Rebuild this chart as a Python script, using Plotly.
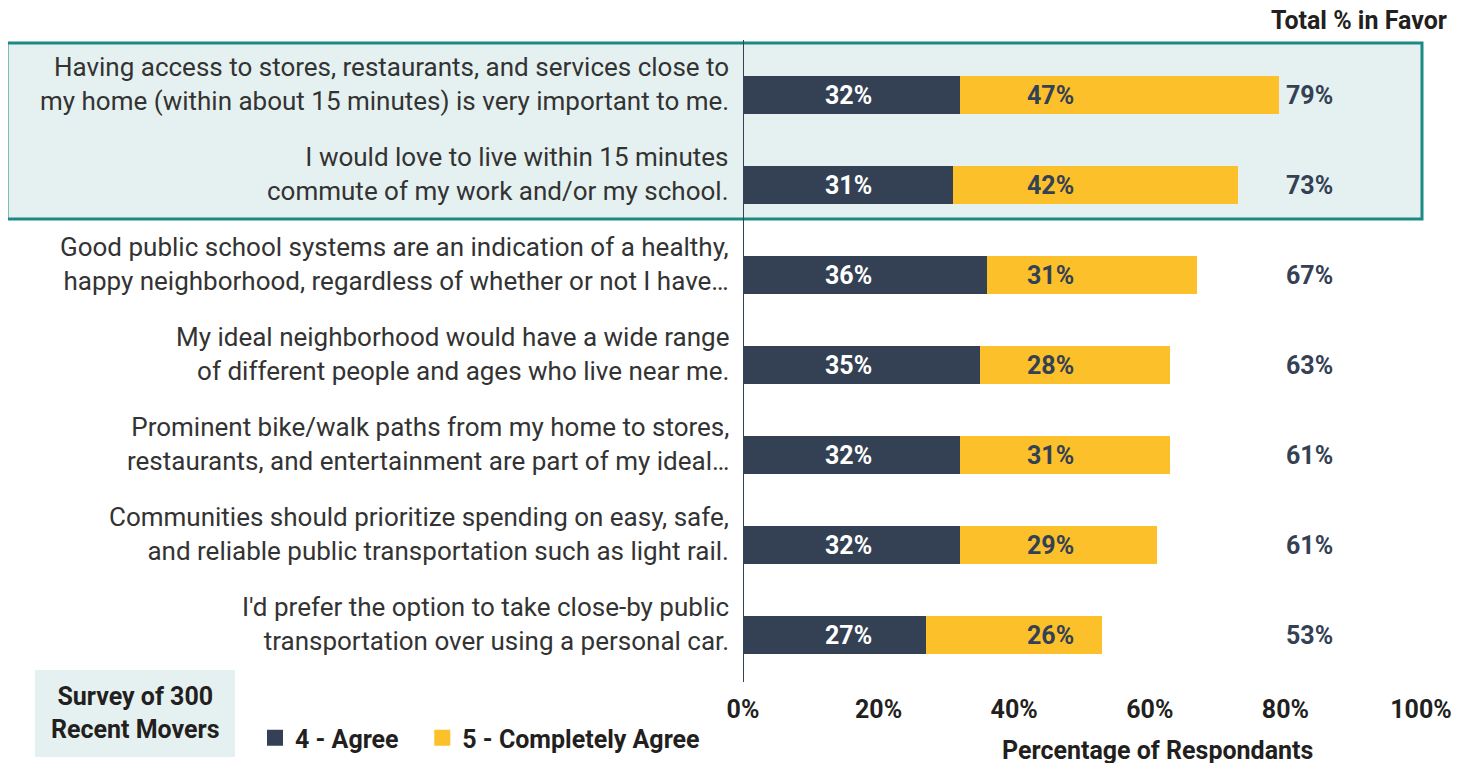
import plotly.graph_objects as go

categories = [
    "Having access to stores, restaurants, and services close to<br>my home (within about 15 minutes) is very important to me.",
    "I would love to live within 15 minutes<br>commute of my work and/or my school.",
    "Good public school systems are an indication of a healthy,<br>happy neighborhood, regardless of whether or not I have…",
    "My ideal neighborhood would have a wide range<br>of different people and ages who live near me.",
    "Prominent bike/walk paths from my home to stores,<br>restaurants, and entertainment are part of my ideal…",
    "Communities should prioritize spending on easy, safe,<br>and reliable public transportation such as light rail.",
    "I'd prefer the option to take close-by public<br>transportation over using a personal car.",
]
agree = [32, 31, 36, 35, 32, 32, 27]
completely_agree = [47, 42, 31, 28, 31, 29, 26]
total_favor = [79, 73, 67, 63, 61, 61, 53]
x_ticks = [0, 20, 40, 60, 80, 100]
x_tick_labels = ["0%", "20%", "40%", "60%", "80%", "100%"]
series_names = ["4 - Agree", "5 - Completely Agree"]

DARK = "#344154"
YELLOW = "#FCC02A"
TEAL_FILL = "#E5F1F0"
TEAL_LINE = "#1B8A84"
TXT = "#333333"
BLK = "#231F20"
FONT = "Roboto"
BOLD_SIZE = 25
CAT_SIZE = 26

# page has an 8px body margin; figure is drawn at (8, 8)
OFF = 8
W, H = 1468 - OFF, 763 - OFF
PLOT_L, PLOT_R, PLOT_T, PLOT_B = 743, 1421, 50, 680   # in screenshot pixels
L = PLOT_L - OFF
R = W - (PLOT_R - OFF)
T = PLOT_T - OFF
B = H - (PLOT_B - OFF)
pw, ph = W - L - R, H - T - B


def px_x(p):
    return (p - OFF - L) / pw


def px_y(p):
    return (H - B - (p - OFF)) / ph


fig = go.Figure()
fig.add_trace(go.Bar(y=categories, x=agree, orientation="h", name=series_names[0],
                     marker=dict(color=DARK, line=dict(width=0)), width=0.42, showlegend=False))
fig.add_trace(go.Bar(y=categories, x=completely_agree, orientation="h", name=series_names[1],
                     marker=dict(color=YELLOW, line=dict(width=0)), width=0.42, showlegend=False))
# legend entries with larger square swatches
legend_pad = ["\u00a0\u00a0\u00a0", ""]
for nm, col, pad in zip(series_names, [DARK, YELLOW], legend_pad):
    fig.add_trace(go.Scatter(x=[None], y=[None], mode="markers", name=nm + pad, showlegend=True,
                             marker=dict(symbol="square", size=16, color=col, line=dict(width=0))))

annotations = []
for c, a, ca, t in zip(categories, agree, completely_agree, total_favor):
    annotations.append(dict(x=0, y=c, xref="x", yref="y", text=c, showarrow=False,
                            xanchor="right", yanchor="middle", align="right", xshift=-12, yshift=11,
                            font=dict(family=FONT, size=CAT_SIZE, color=TXT)))
    annotations.append(dict(x=15.5, y=c, xref="x", yref="y", text=f"{a}%", showarrow=False,
                            font=dict(family=FONT, size=BOLD_SIZE, color="white", weight="bold")))
    annotations.append(dict(x=45.3, y=c, xref="x", yref="y", text=f"{ca}%", showarrow=False,
                            font=dict(family=FONT, size=BOLD_SIZE, color=DARK, weight="bold")))
    annotations.append(dict(x=83.6, y=c, xref="x", yref="y", text=f"{t}%", showarrow=False,
                            font=dict(family=FONT, size=BOLD_SIZE, color=DARK, weight="bold")))

annotations.append(dict(x=px_x(1449), y=px_y(21), xref="paper", yref="paper", xanchor="right",
                        yanchor="middle", text="Total % in Favor", showarrow=False,
                        font=dict(family=FONT, size=BOLD_SIZE, color=BLK, weight="bold")))
annotations.append(dict(x=px_x(1157), y=px_y(750), xref="paper", yref="paper", xanchor="center",
                        yanchor="middle", text="Percentage of Respondants", showarrow=False,
                        font=dict(family=FONT, size=BOLD_SIZE, color=BLK, weight="bold")))
annotations.append(dict(x=px_x(135), y=px_y(713), xref="paper", yref="paper", xanchor="center",
                        yanchor="middle", text="Survey of 300<br>Recent Movers", showarrow=False,
                        font=dict(family=FONT, size=BOLD_SIZE, color=BLK, weight="bold")))

shapes = [
    dict(type="rect", xref="paper", yref="paper", x0=px_x(7), x1=px_x(1422), y0=px_y(219), y1=px_y(43),
         fillcolor=TEAL_FILL, line=dict(color=TEAL_LINE, width=3), layer="below"),
    dict(type="rect", xref="paper", yref="paper", x0=px_x(35), x1=px_x(235), y0=px_y(757), y1=px_y(670),
         fillcolor=TEAL_FILL, line=dict(width=0), layer="below"),
    dict(type="line", xref="x", yref="paper", x0=0, x1=0, y0=px_y(682), y1=px_y(40),
         line=dict(color=DARK, width=2), layer="above"),
]

fig.update_layout(
    width=W, height=H,
    margin=dict(l=L, r=R, t=T, b=B, autoexpand=False),
    barmode="stack",
    paper_bgcolor="white", plot_bgcolor="rgba(0,0,0,0)",
    font=dict(family=FONT, color=TXT),
    showlegend=True,
    legend=dict(orientation="h", x=px_x(255), y=px_y(738), xanchor="left", yanchor="middle",
                font=dict(family=FONT, size=BOLD_SIZE, color=BLK, weight="bold"),
                bgcolor="rgba(0,0,0,0)", itemclick=False, traceorder="normal",
                itemsizing="trace"),
    annotations=annotations,
    shapes=shapes,
    xaxis=dict(range=[0, 100], tickvals=x_ticks, ticktext=x_tick_labels, showgrid=False,
               zeroline=False, showline=False, ticks="", ticklabelstandoff=12,
               tickfont=dict(family=FONT, size=BOLD_SIZE, color=BLK, weight="bold"), fixedrange=True),
    yaxis=dict(autorange="reversed", showgrid=False, zeroline=False, showline=False, ticks="",
               showticklabels=False, fixedrange=True),
)

fig.write_html("out.html")
